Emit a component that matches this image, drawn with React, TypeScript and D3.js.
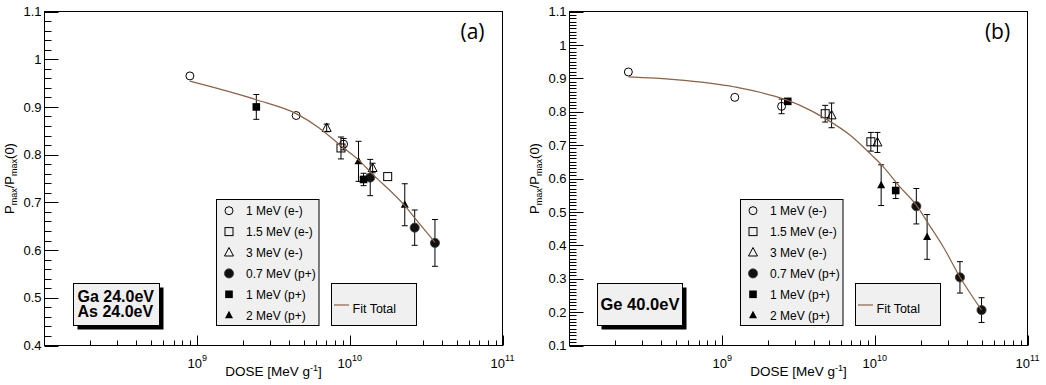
import React from "react";
import * as d3 from "d3";

// ---------- data ----------
const legendLabels = ["1 MeV (e-)", "1.5 MeV (e-)", "3 MeV (e-)", "0.7 MeV (p+)", "1 MeV (p+)", "2 MeV (p+)"];
const markerKinds = ["oc", "os", "ot", "fc", "fs", "ft"];
const fitLabel = "Fit Total";

// [dose MeV/g, Pmax/Pmax(0), error]
const aE1MeV: number[][] = [[8.96e8, 0.965, 0], [4.45e9, 0.882, 0], [9.1e9, 0.822, 0.012]];
const aE15MeV: number[][] = [[8.75e9, 0.814, 0.023], [1.77e10, 0.754, 0]];
const aE3MeV: number[][] = [[7.05e9, 0.856, 0.008], [1.41e10, 0.772, 0.01]];
const aP07MeV: number[][] = [[1.36e10, 0.752, 0.038], [2.66e10, 0.647, 0.037], [3.61e10, 0.615, 0.049]];
const aP1MeV: number[][] = [[2.44e9, 0.9, 0.026], [1.23e10, 0.748, 0.013]];
const aP2MeV: number[][] = [[1.14e10, 0.786, 0.042], [2.29e10, 0.695, 0.044]];
const aFit: number[][] = [
  [8.96e8, 0.954], [2.44e9, 0.915], [4.45e9, 0.886], [6.3e9, 0.856], [8.7e9, 0.819],
  [1.15e10, 0.788], [1.37e10, 0.763], [2.29e10, 0.693], [2.65e10, 0.668], [3.61e10, 0.616],
];

const bE1MeV: number[][] = [[2.43e8, 0.919, 0], [1.21e9, 0.843, 0], [2.45e9, 0.816, 0.022]];
const bE15MeV: number[][] = [[4.73e9, 0.794, 0.025], [9.42e9, 0.71, 0.028]];
const bE3MeV: number[][] = [[5.21e9, 0.789, 0.037], [1.04e10, 0.708, 0.03]];
const bP07MeV: number[][] = [[1.87e10, 0.517, 0.053], [3.61e10, 0.304, 0.047], [5.0e10, 0.206, 0.037]];
const bP1MeV: number[][] = [[2.69e9, 0.831, 0.005], [1.37e10, 0.564, 0.024]];
const bP2MeV: number[][] = [[1.1e10, 0.58, 0.061], [2.2e10, 0.425, 0.067]];
const bFit: number[][] = [
  [2.43e8, 0.904], [4.9e8, 0.896], [1.21e9, 0.874], [2.69e9, 0.834], [3.24e9, 0.819],
  [4.71e9, 0.78], [6.87e9, 0.73], [9.53e9, 0.67], [1.11e10, 0.64], [1.46e10, 0.575],
  [1.87e10, 0.52], [2.24e10, 0.465], [2.81e10, 0.395], [3.61e10, 0.305], [5.0e10, 0.206],
];

const xDomain = [1e8, 1e11];
const xMajorTicks = [1e9, 1e10, 1e11];
const xMajorExps = ["9", "10", "11"];
const yTicksA = [0.4, 0.5, 0.6, 0.7, 0.8, 0.9, 1.0, 1.1];
const yTicksB = [0.1, 0.2, 0.3, 0.4, 0.5, 0.6, 0.7, 0.8, 0.9, 1.0, 1.1];
const boxTextA = ["Ga 24.0eV", "As 24.0eV"];
const boxTextB = ["Ge 40.0eV"];
const panelLabels = ["(a)", "(b)"];

// ---------- drawing ----------
const FONT = "'Liberation Sans', Arial, Helvetica, sans-serif";
const FIT_COLOR = "#8a6248";
const BOX_FILL = "#f0f0f0";

function Marker({ kind, x, y }: { kind: string; x: number; y: number }) {
  switch (kind) {
    case "oc":
      return <circle cx={x} cy={y} r={4} fill="none" stroke="#000" strokeWidth={1} />;
    case "os":
      return <rect x={x - 4} y={y - 4} width={8} height={8} fill="none" stroke="#000" strokeWidth={1} />;
    case "ot":
      return (
        <path d={`M${x},${y - 5}L${x + 4.5},${y + 3.5}L${x - 4.5},${y + 3.5}Z`} fill="none" stroke="#000" strokeWidth={1} />
      );
    case "fc":
      return <circle cx={x} cy={y} r={4.6} fill="#111" stroke="#444" strokeWidth={0.8} />;
    case "fs":
      return <rect x={x - 3.8} y={y - 3.8} width={7.6} height={7.6} fill="#000" />;
    case "ft":
      return <path d={`M${x},${y - 4.5}L${x + 4},${y + 3}L${x - 4},${y + 3}Z`} fill="#000" />;
    default:
      return null;
  }
}

interface PanelProps {
  left: number;
  yDomain: [number, number];
  yTicks: number[];
  yMinorStep: number;
  series: number[][][];
  fit: number[][];
  label: string;
  boxText: string[];
  boxX: number;
  boxW: number;
  legendX: number;
  fitBoxX: number;
}

function Panel(p: PanelProps) {
  const top = 11.5;
  const bottom = 345.5;
  const width = 458;
  const right = p.left + width;
  const x = d3.scaleLog().domain(xDomain).range([p.left, right]);
  const y = d3.scaleLinear().domain(p.yDomain).range([bottom, top]);

  const minorY: number[] = [];
  const nMinor = Math.round((p.yDomain[1] - p.yDomain[0]) / p.yMinorStep);
  for (let i = 0; i <= nMinor; i++) {
    const v = p.yDomain[0] + i * p.yMinorStep;
    if (!p.yTicks.some((t) => Math.abs(t - v) < 1e-6)) minorY.push(v);
  }
  const minorX: number[] = [];
  [1e8, 1e9, 1e10].forEach((d) => {
    for (let k = 2; k <= 9; k++) minorX.push(d * k);
  });

  const line = d3
    .line<number[]>()
    .x((d) => x(d[0]))
    .y((d) => y(d[1]))
    .curve(d3.curveMonotoneX);

  const rowY = (i: number) => 210.7 + i * 20.9;
  const cy = (top + bottom) / 2;
  const cx = (p.left + right) / 2;

  return (
    <g fontFamily={FONT}>
      {/* frame */}
      <rect x={p.left} y={top} width={width} height={bottom - top} fill="#fff" stroke="#000" strokeWidth={1} />

      {/* y ticks */}
      {p.yTicks.map((t) => (
        <g key={"yt" + t}>
          <line x1={p.left} x2={p.left + 14} y1={Math.round(y(t)) + 0.5} y2={Math.round(y(t)) + 0.5} stroke="#000" />
          <text x={p.left - 3} y={y(t)} dy="0.36em" textAnchor="end" fontSize={13}>
            {d3.format("~g")(t)}
          </text>
        </g>
      ))}
      {minorY.map((t) => (
        <line key={"ym" + t} x1={p.left} x2={p.left + 7} y1={Math.round(y(t)) + 0.5} y2={Math.round(y(t)) + 0.5} stroke="#000" />
      ))}

      {/* x ticks */}
      {xMajorTicks.map((t, i) => (
        <g key={"xt" + t}>
          <line x1={Math.round(x(t)) + 0.5} x2={Math.round(x(t)) + 0.5} y1={bottom} y2={bottom - 10} stroke="#000" />
          <text x={x(t)} y={368} textAnchor="middle" fontSize={13}>
            10
            <tspan dy={-7} fontSize={9}>
              {xMajorExps[i]}
            </tspan>
          </text>
        </g>
      ))}
      {minorX.map((t) => (
        <line key={"xm" + t} x1={Math.round(x(t)) + 0.5} x2={Math.round(x(t)) + 0.5} y1={bottom} y2={bottom - 5} stroke="#000" />
      ))}

      {/* axis titles */}
      <text x={cx} y={375.5} textAnchor="middle" fontSize={13.5}>
        DOSE [MeV g
        <tspan dy={-5} fontSize={9}>
          -1
        </tspan>
        <tspan dy={5}>]</tspan>
      </text>
      <text transform={`translate(${p.left - 31},${cy}) rotate(-90)`} textAnchor="middle" fontSize={13}>
        P
        <tspan dy={3} fontSize={9}>
          max
        </tspan>
        <tspan dy={-3}>/P</tspan>
        <tspan dy={3} fontSize={9}>
          max
        </tspan>
        <tspan dy={-3}>(0)</tspan>
      </text>

      {/* data */}
      {p.series.map((s, si) =>
        s.map((d, di) => {
          const px = x(d[0]);
          const py = y(d[1]);
          const e = d[2];
          return (
            <g key={`s${si}-${di}`}>
              {e > 0 && (
                <g stroke="#000" strokeWidth={1}>
                  <line x1={px} x2={px} y1={y(d[1] + e)} y2={y(d[1] - e)} />
                  <line x1={px - 3} x2={px + 3} y1={y(d[1] + e)} y2={y(d[1] + e)} />
                  <line x1={px - 3} x2={px + 3} y1={y(d[1] - e)} y2={y(d[1] - e)} />
                </g>
              )}
              <Marker kind={markerKinds[si]} x={px} y={py} />
            </g>
          );
        })
      )}
      <path d={line(p.fit) || ""} fill="none" stroke={FIT_COLOR} strokeWidth={1.2} />

      {/* panel label */}
      <text x={right - 30} y={39} textAnchor="middle" fontSize={21} fontFamily="'Open Sans', sans-serif">
        {p.label}
      </text>

      {/* text box with shadow */}
      <rect x={p.boxX + 4} y={287.5} width={p.boxW} height={42} fill="#000" />
      <rect x={p.boxX} y={283.5} width={p.boxW} height={42} fill={BOX_FILL} stroke="#000" />
      {p.boxText.length === 2 ? (
        p.boxText.map((t, i) => (
          <text key={t} x={p.boxX + 4} y={301.5 + i * 15} fontSize={16} fontWeight="bold">
            {t}
          </text>
        ))
      ) : (
        <text x={p.boxX + 3} y={310} fontSize={16.5} fontWeight="bold">
          {p.boxText[0]}
        </text>
      )}

      {/* legend */}
      <rect x={p.legendX} y={199.5} width={102.5} height={126} fill={BOX_FILL} stroke="#000" />
      {legendLabels.map((l, i) => (
        <g key={l}>
          <Marker kind={markerKinds[i]} x={p.legendX + 12.5} y={rowY(i)} />
          <text x={p.legendX + 29.5} y={rowY(i)} dy="0.36em" fontSize={12}>
            {l}
          </text>
        </g>
      ))}

      {/* fit legend */}
      <rect x={p.fitBoxX} y={283.5} width={85} height={42} fill={BOX_FILL} stroke="#000" />
      <line x1={p.fitBoxX + 2.5} x2={p.fitBoxX + 17.5} y1={305} y2={305} stroke={FIT_COLOR} strokeWidth={1.2} />
      <text x={p.fitBoxX + 21} y={312.5} fontSize={12.5}>
        {fitLabel}
      </text>
    </g>
  );
}

export default function App() {
  return (
    <svg
      width={1046}
      height={385}
      viewBox="0 0 1046 385"
      style={{ position: "absolute", left: 0, top: 0, background: "#fff" }}
    >
      <rect x={0} y={0} width={1046} height={385} fill="#fff" />
      <Panel
        left={44.5}
        yDomain={[0.4, 1.1]}
        yTicks={yTicksA}
        yMinorStep={0.02}
        series={[aE1MeV, aE15MeV, aE3MeV, aP07MeV, aP1MeV, aP2MeV]}
        fit={aFit}
        label={panelLabels[0]}
        boxText={boxTextA}
        boxX={73.5}
        boxW={86}
        legendX={216.5}
        fitBoxX={331.5}
      />
      <Panel
        left={569.5}
        yDomain={[0.1, 1.1]}
        yTicks={yTicksB}
        yMinorStep={0.01}
        series={[bE1MeV, bE15MeV, bE3MeV, bP07MeV, bP1MeV, bP2MeV]}
        fit={bFit}
        label={panelLabels[1]}
        boxText={boxTextB}
        boxX={597.5}
        boxW={85}
        legendX={740.5}
        fitBoxX={855.5}
      />
    </svg>
  );
}
